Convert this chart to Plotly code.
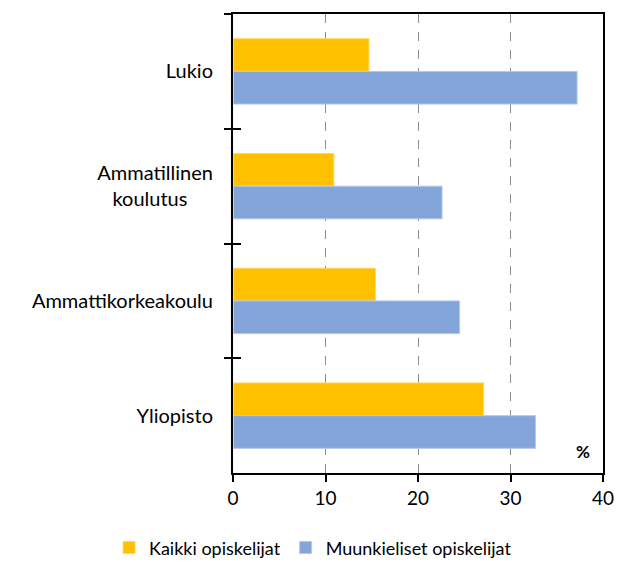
import plotly.graph_objects as go

# Koulutusaste
categories = ["Lukio", "Ammatillinen<br>koulutus\u00a0\u00a0\u00a0\u00a0\u00a0", "Ammattikorkeakoulu", "Yliopisto"]
# Osuudet (%)
kaikki = [14.7, 10.9, 15.4, 27.1]
muunkieliset = [37.2, 22.6, 24.5, 32.7]
series_names = ["Kaikki opiskelijat", "Muunkieliset opiskelijat"]
x_ticks = [0, 10, 20, 30, 40]

FONT = "Lato"
FS = 20

fig = go.Figure()
fig.add_trace(go.Bar(y=categories, x=kaikki, orientation="h", name=series_names[0],
                     marker=dict(color="#FFC000", line=dict(color="#FFD966", width=1))))
fig.add_trace(go.Bar(y=categories, x=muunkieliset, orientation="h", name=series_names[1],
                     marker=dict(color="#84A5DA", line=dict(color="#B4C8EA", width=1))))
# empty companion trace so the overlay axis carries the same categories (inner tick marks)
fig.add_trace(go.Bar(y=categories, x=[0] * len(categories), orientation="h", yaxis="y2",
                     showlegend=False, hoverinfo="skip", marker=dict(color="rgba(0,0,0,0)")))

fig.update_layout(
    width=618, height=563,
    margin=dict(l=233, r=15, t=14, b=90, autoexpand=False),
    paper_bgcolor="white", plot_bgcolor="white",
    barmode="group", bargap=0.43, bargroupgap=0,
    font=dict(family=FONT, size=FS, color="#000000"),
    showlegend=True,
    legend=dict(orientation="h", xref="paper", yref="paper",
                x=-0.335, xanchor="left", y=-0.163, yanchor="middle",
                font=dict(family=FONT, size=18), itemwidth=30,
                traceorder="normal"),
    yaxis2=dict(overlaying="y", matches="y", type="category", autorange="reversed",
                tickson="boundaries", ticks="inside", ticklen=8, tickcolor="black",
                tickwidth=1.5, showticklabels=False, showgrid=False, zeroline=False,
                showline=False, side="left"),
)

fig.update_xaxes(
    range=[0, 40], tickvals=x_ticks, ticktext=[str(v) for v in x_ticks],
    showline=True, linecolor="black", linewidth=2, mirror=True,
    ticks="outside", ticklen=7, tickcolor="black", tickwidth=1.5,
    showgrid=True, gridcolor="#8C8C8C", griddash="dash", gridwidth=1,
    zeroline=False, tickfont=dict(family=FONT, size=19),
)
fig.layout.yaxis.update(autorange="reversed", type="category", tickson="boundaries",
                        showline=True, linecolor="black", linewidth=2, mirror=True,
                        ticks="outside", ticklen=7, tickcolor="black", tickwidth=1.5,
                        showgrid=False, zeroline=False, ticklabelstandoff=14,
                        tickfont=dict(family=FONT, size=FS))

fig.add_annotation(text="<b>%</b>", xref="paper", yref="paper", x=0.946, y=0.046,
                   xanchor="center", yanchor="middle", showarrow=False,
                   font=dict(family=FONT, size=17, color="black"))

fig.write_html("out.html")
